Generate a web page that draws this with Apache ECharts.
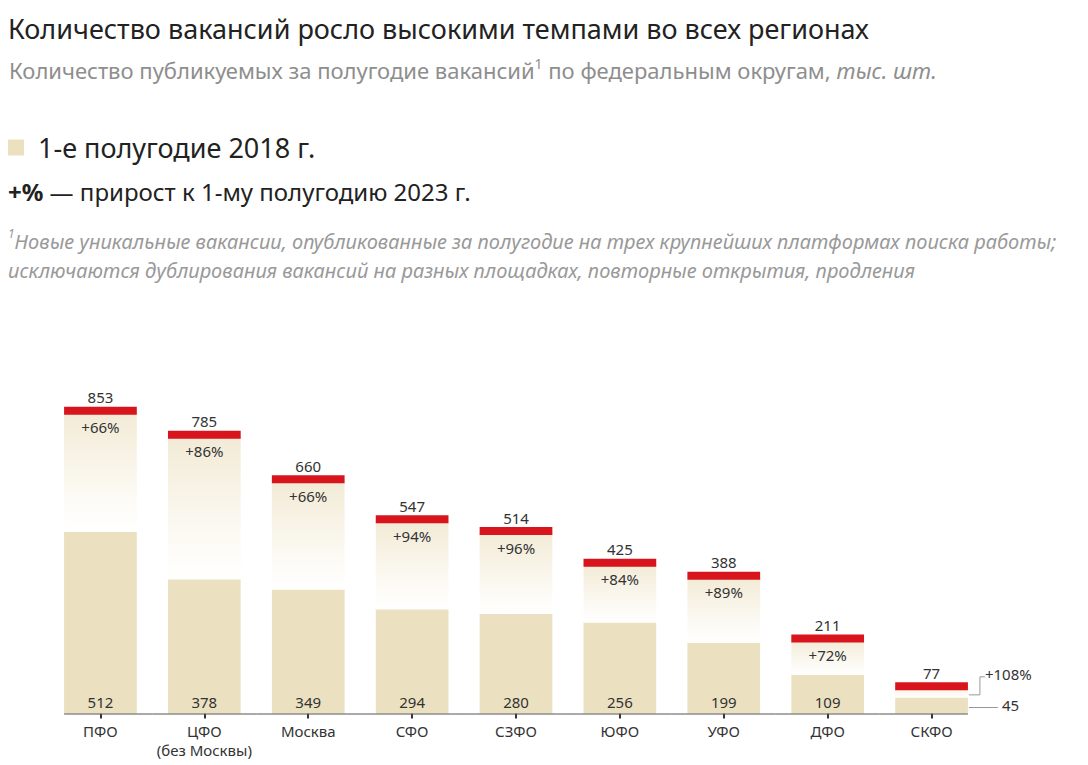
<!DOCTYPE html>
<html><head><meta charset="utf-8">
<script src="https://cdn.jsdelivr.net/npm/echarts@6/dist/echarts.min.js"></script>
<style>html,body{margin:0;padding:0;background:#fff}#c{width:1088px;height:765px}</style>
</head><body><div id="c"></div>
<script>
const categories = ['ПФО', 'ЦФО\n(без Москвы)', 'Москва', 'СФО', 'СЗФО', 'ЮФО', 'УФО', 'ДФО', 'СКФО'];
const h1_2018 = [512, 378, 349, 294, 280, 256, 199, 109, 45];
const h1_2023 = [853, 785, 660, 547, 514, 425, 388, 211, 77];
const growthLabels = ['+66%', '+86%', '+66%', '+94%', '+96%', '+84%', '+89%', '+72%', '+108%'];

const FONT = '"Noto Sans", "Open Sans", sans-serif';
const BEIGE = '#ebe1c1';
const RED = '#d8141c';
const outside = h1_2018.map(v => v < 60);

const chart = echarts.init(document.getElementById('c'), null, {renderer: 'svg'});

function renderTop(params, api) {
  const i = api.value(0), v = api.value(1), b = api.value(2);
  const top = api.coord([i, v]);
  const zero = api.coord([i, 0]);
  const bTop = api.coord([i, b]);
  const catW = api.size([1, 0])[0];
  const bw = catW * 0.7;
  const x0 = top[0] - bw / 2, xr = x0 + bw;
  const n = categories.length;
  const ch = [];
  const lx0 = i === 0 ? x0 : top[0] - catW / 2;
  const lx1 = i === n - 1 ? xr : top[0] + catW / 2;
  ch.push({type: 'line', shape: {x1: lx0, y1: zero[1] + 0.5, x2: lx1, y2: zero[1] + 0.5}, style: {stroke: '#555', lineWidth: 1}});
  ch.push({type: 'rect', shape: {x: x0, y: top[1] - 4, width: bw, height: 8}, style: {fill: RED}});
  ch.push({type: 'text', style: {text: String(v), x: top[0], y: top[1] - 6, align: 'center', verticalAlign: 'bottom', fill: '#333', font: '15px ' + FONT}});
  if (outside[i]) {
    const yb = (zero[1] + bTop[1]) / 2 + 2;
    ch.push({type: 'line', shape: {x1: xr + 1, y1: yb, x2: xr + 30, y2: yb}, style: {stroke: '#999', lineWidth: 1}});
    ch.push({type: 'text', style: {text: String(b), x: xr + 34, y: yb - 3, align: 'left', verticalAlign: 'middle', fill: '#333', font: '15px ' + FONT}});
    const yg = (bTop[1] + top[1] + 4) / 2 + 1;
    ch.push({type: 'polyline', shape: {points: [[xr + 1, yg], [xr + 12, yg], [xr + 12, yg - 18], [xr + 17, yg - 18]]}, style: {stroke: '#999', lineWidth: 1, fill: null}});
    ch.push({type: 'text', style: {text: growthLabels[i], x: xr + 17, y: yg - 21, align: 'left', verticalAlign: 'middle', fill: '#333', font: '15px ' + FONT}});
  }
  return {type: 'group', children: ch};
}

const option = {
  backgroundColor: '#fff',
  animation: false,
  title: [
    {text: 'Количество вакансий росло высокими темпами во всех регионах', left: 3, top: 10,
     textStyle: {fontFamily: FONT, fontSize: 27, fontWeight: 'normal', color: '#222'}},
    {text: '{a|Количество публикуемых за полугодие вакансий}{s|1}{a| по федеральным округам, }{i|тыс. шт.}', left: 4, top: 51,
     textStyle: {fontWeight: 'normal', rich: {
       a: {fontFamily: FONT, fontSize: 22, fontWeight: 'normal', color: '#8e8e8e', lineHeight: 28},
       s: {fontFamily: FONT, fontSize: 14, fontWeight: 'normal', color: '#8e8e8e', lineHeight: 28, verticalAlign: 'top', padding: [0, 0, 10, 0]},
       i: {fontFamily: FONT, fontSize: 22, fontWeight: 'normal', fontStyle: 'italic', color: '#8e8e8e', lineHeight: 28}
     }}},
    {text: '{b|+%}{a| — прирост к 1-му полугодию 2023 г.}', left: 3, top: 171,
     textStyle: {fontWeight: 'normal', rich: {
       b: {fontFamily: FONT, fontSize: 24, fontWeight: 'bold', color: '#222', lineHeight: 30},
       a: {fontFamily: FONT, fontSize: 24, fontWeight: 'normal', color: '#222', lineHeight: 30}
     }}},
    {text: '{s|1}{i|Новые уникальные вакансии, опубликованные за полугодие на трех крупнейших платформах поиска работы;}\n{i|исключаются дублирования вакансий на разных площадках, повторные открытия, продления}', left: 3, top: 222,
     textStyle: {fontWeight: 'normal', rich: {
       s: {fontFamily: FONT, fontSize: 12, fontWeight: 'normal', fontStyle: 'italic', color: '#999', lineHeight: 29, verticalAlign: 'top', padding: [0, 0, 10, 0]},
       i: {fontFamily: FONT, fontSize: 20, fontWeight: 'normal', fontStyle: 'italic', color: '#999', lineHeight: 29}
     }}}
  ],
  legend: {
    left: 3, top: 129, icon: 'rect', itemWidth: 16, itemHeight: 16,
    data: ['1-е полугодие 2018 г.'],
    textStyle: {fontFamily: FONT, fontSize: 27, color: '#222', padding: [0, 0, 0, 9]},
    selectedMode: false
  },
  grid: {left: 48.5, right: 104.5, top: 394, bottom: 51.5},
  xAxis: {
    type: 'category', data: categories,
    axisLine: {show: false},
    axisTick: {show: true, alignWithLabel: true, interval: 0, length: 5, lineStyle: {color: '#333', width: 2}},
    axisLabel: {interval: 0, fontFamily: FONT, fontSize: 15, color: '#333', margin: 8, lineHeight: 19}
  },
  yAxis: {type: 'value', min: 0, max: 900, show: false, splitLine: {show: false}},
  series: [
    {
      name: '1-е полугодие 2018 г.', type: 'bar', stack: 's', barWidth: '70%',
      itemStyle: {color: BEIGE},
      data: h1_2018.map((v, i) => ({value: v, label: {show: !outside[i]}})),
      label: {show: true, position: 'insideBottom', distance: 4, color: '#333', fontFamily: FONT, fontSize: 15}
    },
    {
      name: 'прирост', type: 'bar', stack: 's', barWidth: '70%',
      itemStyle: {color: new echarts.graphic.LinearGradient(0, 0, 0, 1, [
        {offset: 0, color: '#f2ead5'}, {offset: 0.7, color: '#fcfaf4'}, {offset: 1, color: '#ffffff'}])},
      data: h1_2023.map((v, i) => ({value: v - h1_2018[i], label: {show: !outside[i]}})),
      label: {show: true, position: 'insideTop', distance: 9, color: '#333', fontFamily: FONT, fontSize: 15,
        formatter: p => growthLabels[p.dataIndex]}
    },
    {
      name: 'cap', type: 'custom', clip: false, z: 10,
      renderItem: renderTop,
      encode: {x: 0, y: 1},
      data: h1_2023.map((v, i) => [i, v, h1_2018[i]])
    }
  ]
};
chart.setOption(option);
</script></body></html>
